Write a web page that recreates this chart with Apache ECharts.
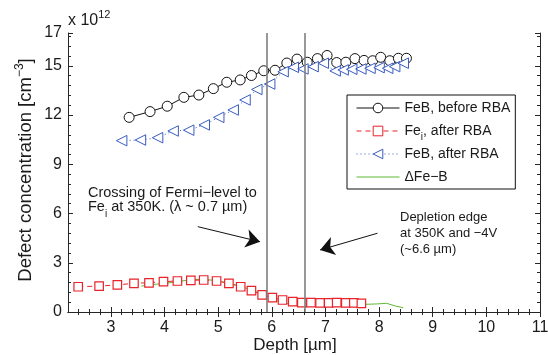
<!DOCTYPE html>
<html><head><meta charset="utf-8">
<script src="https://cdn.jsdelivr.net/npm/echarts@6/dist/echarts.min.js"></script>
<style>html,body{margin:0;padding:0;background:#fff}#c{width:548px;height:355px}</style>
</head><body><div id="c"></div>
<script>
// ---- data (concentration in units of 1e12 cm^-3) ----
const depthBefore = [3.34,3.73,4.05,4.36,4.64,4.91,5.16,5.41,5.62,5.85,6.06,6.28,6.47,6.66,6.85,7.03,7.21,7.38,7.55,7.72,7.88,8.03,8.20,8.36,8.51];
const feBBefore   = [11.86,12.21,12.54,13.08,13.22,13.61,14.00,14.14,14.41,14.70,14.73,15.17,15.41,15.22,15.44,15.63,15.20,15.22,15.44,15.33,15.31,15.52,15.31,15.46,15.46];
const depthFeI    = [2.39,2.78,3.12,3.43,3.71,3.98,4.24,4.49,4.73,4.97,5.20,5.42,5.62,5.82,6.01,6.20,6.39,6.56,6.73,6.90,7.06,7.21,7.38,7.53,7.67];
const feIAfter    = [1.54,1.58,1.65,1.75,1.78,1.85,1.89,1.93,1.95,1.89,1.75,1.54,1.30,1.04,0.87,0.73,0.63,0.57,0.57,0.55,0.55,0.57,0.55,0.55,0.53];
const depthAfter  = [3.20,3.55,3.87,4.16,4.45,4.74,5.01,5.28,5.50,5.72,5.96,6.21,6.40,6.58,6.77,6.96,7.18,7.33,7.49,7.66,7.83,8.00,8.16,8.29,8.45];
const feBAfter    = [10.44,10.48,10.62,11.03,11.08,11.40,11.86,12.31,12.92,13.56,13.89,14.64,14.91,14.81,14.95,15.16,14.69,14.75,14.79,14.81,14.85,14.89,14.85,14.95,15.16];
const depthDelta  = [3.57,3.80,4.05,4.30,4.54,4.80,4.97,5.20,5.41,5.60,5.78,5.95,6.09,6.20,6.34,6.55,6.80,7.00,7.17,7.35,7.55,7.75,7.95,8.14,8.30,8.45];
const deltaFeB    = [1.58,1.68,1.76,1.88,1.99,1.97,1.91,1.74,1.58,1.36,1.14,0.90,0.69,0.58,0.47,0.47,0.52,0.57,0.63,0.55,0.50,0.47,0.49,0.53,0.37,0.26];
const xTickLabels = [3,4,5,6,7,8,9,10,11];
const yTickLabels = [0,3,6,9,12,15,17];
const seriesNames = ['FeB, before RBA','Fe_i, after RBA','FeB, after RBA','ΔFe−B'];
const markerDepths = [5.9, 6.62];
const arrowFermi = [[4.62,5.20],[5.78,4.28]];
const arrowDepletion = [[7.97,4.80],[6.90,3.78]];

const zip = (xs, ys) => xs.map((x, i) => [x, ys[i]]);
const FONT = "'Liberation Sans', Arial, Helvetica, sans-serif";
const TXT = '#1a1a1a';
const AX = '#262626';
const C_BLACK = '#111', C_RED = '#e8232a', C_BLUE = '#3a5cbf', C_GREEN = '#5fba34';
const X_MIN = 2.2, X_MAX = 11, Y_MIN = 0, Y_MAX = 17;

const xMinor = [];
for (let i = 12; i < 55; i++) { if (i % 5 !== 0) xMinor.push(+(i / 5).toFixed(1)); }
const yMinor = [];
for (let i = 1; i < 29; i++) { if (i % 5 !== 0) yMinor.push(+(i * 0.6).toFixed(1)); }

function xAx(pos, ticks, len, line, extra) {
  return Object.assign({
    type: 'value', min: X_MIN, max: X_MAX, position: pos,
    splitLine: { show: false },
    axisLine: { show: line, lineStyle: { color: AX, width: 1 } },
    axisTick: { show: true, inside: true, length: len, customValues: ticks, lineStyle: { color: AX, width: 1 } },
    axisLabel: { show: false }
  }, extra || {});
}
function yAx(pos, ticks, len, line, extra) {
  return Object.assign({
    type: 'value', min: Y_MIN, max: Y_MAX, position: pos,
    splitLine: { show: false },
    axisLine: { show: line, lineStyle: { color: AX, width: 1 } },
    axisTick: { show: true, inside: true, length: len, customValues: ticks, lineStyle: { color: AX, width: 1 } },
    axisLabel: { show: false }
  }, extra || {});
}

const legendText = {
  'FeB, before RBA': '{n|FeB, before RBA}',
  'Fe_i, after RBA': '{n|Fe}{sub|i}{n|, after RBA}',
  'FeB, after RBA': '{n|FeB, after RBA}',
  'ΔFe−B': '{n|ΔFe−B}'
};

const chart = echarts.init(document.getElementById('c'), null, { renderer: 'canvas' });
chart.setOption({
  animation: false,
  backgroundColor: '#fff',
  grid: { left: 68, right: 8, top: 33, bottom: 43, containLabel: false, outerBoundsMode: 'none' },
  xAxis: [
    xAx('bottom', xTickLabels, 5, true, {
      axisLabel: { show: true, customValues: xTickLabels, fontSize: 16, color: TXT, fontFamily: FONT, margin: 8 },
      name: 'Depth [µm]', nameLocation: 'middle', nameGap: 25, nameMoveOverlap: false,
      nameTextStyle: { fontSize: 17, color: TXT, fontFamily: FONT, padding: [0, 18, 0, 0] }
    }),
    xAx('bottom', xMinor, 3, false),
    xAx('top', xTickLabels, 5, true),
    xAx('top', xMinor, 3, false)
  ],
  yAxis: [
    yAx('left', yTickLabels, 5, true, {
      axisLabel: { show: true, customValues: yTickLabels, fontSize: 16, color: TXT, fontFamily: FONT, margin: 6 },
      name: '{n|Defect concentration [cm}{sup|−3}{n|]}', nameLocation: 'middle', nameGap: 30, nameRotate: 90, nameMoveOverlap: false,
      nameTextStyle: {
        fontSize: 18.5, color: TXT, fontFamily: FONT, padding: [0, 0, 0, 5],
        rich: {
          n: { fontSize: 18.5, color: TXT, fontFamily: FONT, lineHeight: 24 },
          sup: { fontSize: 12, color: TXT, fontFamily: FONT, lineHeight: 12, verticalAlign: 'top' }
        }
      }
    }),
    yAx('left', yMinor, 3, false),
    yAx('right', yTickLabels, 5, true),
    yAx('right', yMinor, 3, false)
  ],
  legend: {
    data: [seriesNames[0], seriesNames[1], seriesNames[2], { name: seriesNames[3], icon: 'path://M0,0H43V1.2H0Z' }],
    orient: 'vertical', left: 347, top: 95,
    padding: [2, 5, 1, 9], itemGap: 1,
    itemWidth: 43, itemHeight: 12,
    itemStyle: { borderWidth: 1 },
    lineStyle: { width: 1 },
    backgroundColor: '#fff', borderColor: '#111', borderWidth: 1, borderRadius: 0,
    selectedMode: false,
    formatter: (name) => legendText[name],
    textStyle: {
      fontSize: 14, color: TXT, fontFamily: FONT, lineHeight: 22,
      rich: {
        n: { fontSize: 14, color: TXT, fontFamily: FONT, lineHeight: 22 },
        sub: { fontSize: 10, color: TXT, fontFamily: FONT, lineHeight: 10, verticalAlign: 'bottom' }
      }
    }
  },
  series: [
    {
      name: seriesNames[0], type: 'line', data: zip(depthBefore, feBBefore),
      symbol: 'circle', symbolSize: 10, showAllSymbol: true,
      lineStyle: { color: C_BLACK, width: 1 },
      itemStyle: { color: '#fff', borderColor: C_BLACK, borderWidth: 1 }, z: 4
    },
    {
      name: seriesNames[1], type: 'line', data: zip(depthFeI, feIAfter),
      symbol: 'rect', symbolSize: 8.5, showAllSymbol: true,
      lineStyle: { color: C_RED, width: 1, type: [5, 4] },
      itemStyle: { color: '#fff', borderColor: C_RED, borderWidth: 1.2 }, z: 4
    },
    {
      name: seriesNames[2], type: 'line', data: zip(depthAfter, feBAfter),
      symbol: 'triangle', symbolRotate: 90, symbolSize: 10.5, showAllSymbol: true,
      lineStyle: { color: C_BLUE, width: 1, type: [1, 3] },
      itemStyle: { color: '#fff', borderColor: C_BLUE, borderWidth: 1 }, z: 4
    },
    {
      name: seriesNames[3], type: 'line', data: zip(depthDelta, deltaFeB),
      symbol: 'none', smooth: false,
      lineStyle: { color: C_GREEN, width: 1 },
      itemStyle: { color: C_GREEN }, z: 3,
      markLine: {
        silent: true, animation: false, symbol: ['none', 'none'],
        label: { show: false },
        data: [
          ...markerDepths.map(d => ({ xAxis: d, lineStyle: { color: '#7f7f7f', width: 1.6, type: 'solid' } })),
          [ { coord: arrowFermi[0], lineStyle: { color: '#111', width: 1, type: 'solid' } },
            { coord: arrowFermi[1], symbol: 'arrow', symbolSize: 14, lineStyle: { color: '#111', width: 1, type: 'solid' } } ],
          [ { coord: arrowDepletion[0], lineStyle: { color: '#111', width: 1, type: 'solid' } },
            { coord: arrowDepletion[1], symbol: 'arrow', symbolSize: 14, lineStyle: { color: '#111', width: 1, type: 'solid' } } ]
        ]
      }
    }
  ],
  graphic: [
    { type: 'text', x: 68, y: 21, silent: true,
      style: { text: '{n|x 10}{sup|12}', verticalAlign: 'middle', align: 'left',
        rich: { n: { fontSize: 16, fill: TXT, fontFamily: FONT, lineHeight: 24 },
                sup: { fontSize: 11, fill: TXT, fontFamily: FONT, lineHeight: 12, verticalAlign: 'top' } } } },
    { type: 'text', x: 88, y: 193, silent: true,
      style: { text: 'Crossing of Fermi−level to', fontSize: 14.5, fill: TXT, fontFamily: FONT, verticalAlign: 'middle', align: 'left' } },
    { type: 'text', x: 88, y: 207, silent: true,
      style: { text: '{n|Fe}{sub|i}{n| at 350K. (λ ~ 0.7 µm)}', verticalAlign: 'middle', align: 'left',
        rich: { n: { fontSize: 14.5, fill: TXT, fontFamily: FONT, lineHeight: 24 },
                sub: { fontSize: 10, fill: TXT, fontFamily: FONT, lineHeight: 10, verticalAlign: 'bottom' } } } },
    { type: 'text', x: 400, y: 217, silent: true,
      style: { text: 'Depletion edge', fontSize: 13, fill: TXT, fontFamily: FONT, verticalAlign: 'middle', align: 'left' } },
    { type: 'text', x: 400, y: 233, silent: true,
      style: { text: 'at 350K and −4V', fontSize: 13, fill: TXT, fontFamily: FONT, verticalAlign: 'middle', align: 'left' } },
    { type: 'text', x: 400, y: 249, silent: true,
      style: { text: '(~6.6 µm)', fontSize: 13, fill: TXT, fontFamily: FONT, verticalAlign: 'middle', align: 'left' } }
  ]
});
</script></body></html>
